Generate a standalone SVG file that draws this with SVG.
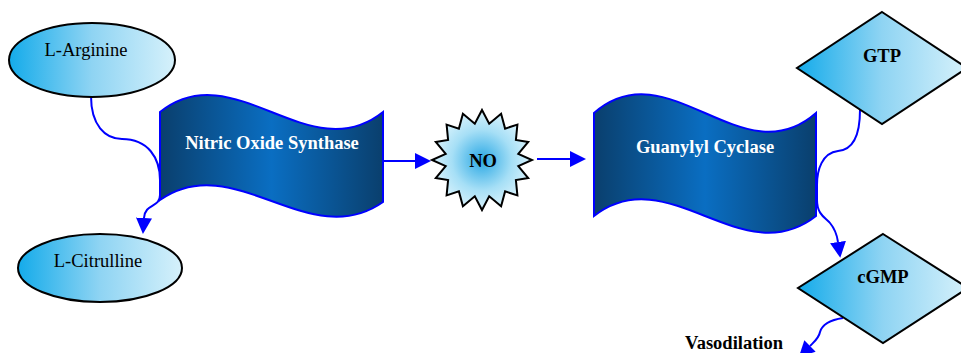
<svg xmlns="http://www.w3.org/2000/svg" width="961" height="353" viewBox="0 0 961 353">
<defs>
<linearGradient id="lightGrad" x1="0" y1="0" x2="1" y2="0">
<stop offset="0" stop-color="#14abea"/>
<stop offset="0.5" stop-color="#8fd4f3"/>
<stop offset="1" stop-color="#d6f1fb"/>
</linearGradient>
<linearGradient id="waveGrad" x1="0" y1="0" x2="1" y2="0">
<stop offset="0" stop-color="#0a3f6d"/>
<stop offset="0.5" stop-color="#0a6ec2"/>
<stop offset="1" stop-color="#0a3f6d"/>
</linearGradient>
<radialGradient id="starGrad" cx="0.5" cy="0.5" r="0.5">
<stop offset="0" stop-color="#2aa8e4"/>
<stop offset="0.6" stop-color="#a6dff6"/>
<stop offset="1" stop-color="#d8f2fc"/>
</radialGradient>
<marker id="arrow" markerUnits="userSpaceOnUse" markerWidth="16" markerHeight="16" refX="0" refY="8" orient="auto">
<path d="M0,0 L16,8 L0,16 Z" fill="#0000ff"/>
</marker>
<style>
.light{fill:url(#lightGrad);stroke:#000;stroke-width:2}
.wave{fill:url(#waveGrad);stroke:#0000ff;stroke-width:2}
.star{fill:url(#starGrad);stroke:#000;stroke-width:2}
.conn{fill:none;stroke:#0000ff;stroke-width:2;marker-end:url(#arrow)}
.t{font-family:"Liberation Serif","Times New Roman",serif;font-size:18.5px;text-anchor:middle}
.b{font-weight:bold}
.w{fill:#fff}
</style>
</defs>
<g id="connectors">
<path class="conn" d="M91,96 C91,125 105,139 122,139 C148,139 160,158 160,180 L160,195 C160,208 145,203 144,218"/>
<path class="conn" d="M383,161 L415,161"/>
<path class="conn" d="M537,159 L570,159"/>
<path class="conn" d="M860,110 C860,140 850,150 838,151 C822,153 817,170 817,185 L817,200 C817,215 826,218 830,223 C835,229 837,235 838,242"/>
<path class="conn" d="M843,318 C830,320 822,325 820,332 C819,338 815,341 810,346"/>
</g>
<g id="l-arginine">
<ellipse class="light" cx="92" cy="60" rx="83" ry="37"/>
<text class="t" x="86" y="56">L-Arginine</text>
</g>
<g id="l-citrulline">
<ellipse class="light" cx="100" cy="268" rx="82" ry="34"/>
<text class="t" x="98" y="267">L-Citrulline</text>
</g>
<g id="nos">
<path class="wave" d="M160,112 C234,53 309,171 383,112 L383,202 C309,254 234,148 160,200 Z"/>
<text class="t b w" x="272" y="149">Nitric Oxide Synthase</text>
</g>
<g id="no">
<polygon class="star" points="482.0,110.0 489.2,123.7 501.1,113.8 505.1,128.6 517.4,124.6 515.9,140.0 528.2,141.9 518.3,153.8 532.0,160.0 518.3,166.2 528.2,178.1 515.9,180.0 517.4,195.4 505.1,191.4 501.1,206.2 489.2,196.3 482.0,210.0 474.8,196.3 462.9,206.2 458.9,191.4 446.6,195.4 448.1,180.0 435.8,178.1 445.7,166.2 432.0,160.0 445.7,153.8 435.8,141.9 448.1,140.0 446.6,124.6 458.9,128.6 462.9,113.8 474.8,123.7"/>
<text class="t b" x="483" y="167">NO</text>
</g>
<g id="guanylyl-cyclase">
<path class="wave" d="M594,113 C668,48 742,178 816,113 L816,216 C742,274 668,158 594,216 Z"/>
<text class="t b w" x="705" y="153">Guanylyl Cyclase</text>
</g>
<g id="gtp">
<polygon class="light" points="882,12 967,68 882,124 797,68"/>
<text class="t b" x="882" y="62">GTP</text>
</g>
<g id="cgmp">
<polygon class="light" points="883,234 968,288 883,343 798,288"/>
<text class="t b" x="883" y="283">cGMP</text>
</g>
<g id="vasodilation">
<text class="t b" x="734" y="349">Vasodilation</text>
</g>
</svg>
